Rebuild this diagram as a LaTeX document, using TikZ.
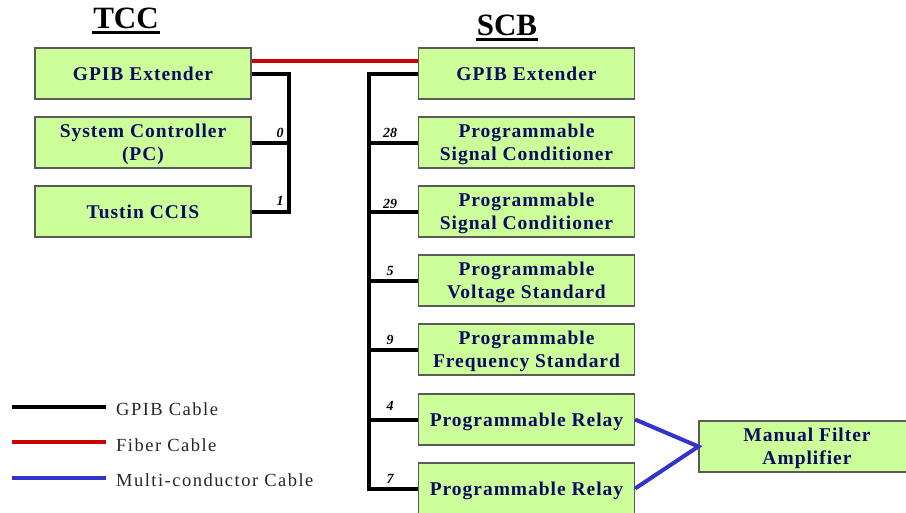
\documentclass[tikz,border=0pt]{standalone}
\usepackage{fontspec}
\setmainfont{Liberation Serif}
\newfontfamily\boxfont[LetterSpace=5]{Liberation Serif}
\newfontfamily\legfont[LetterSpace=8]{Liberation Serif}
\definecolor{boxfill}{RGB}{204,255,153}
\definecolor{boxline}{RGB}{90,90,90}
\definecolor{boxtext}{RGB}{12,12,95}
\definecolor{fibred}{RGB}{204,0,0}
\definecolor{multiblue}{RGB}{51,51,204}
\tikzset{
  unit/.style={draw=boxline, line width=1.2pt, fill=boxfill, minimum width=216pt, minimum height=51pt,
    inner sep=0pt, align=center, text=boxtext, text depth=-3pt,
    font=\boxfont\bfseries\fontsize{19.5}{23}\selectfont},
  gpib/.style={draw=black, line width=4pt},
  fibre/.style={draw=fibred, line width=4pt},
  multi/.style={draw=multiblue, line width=4pt},
  addr/.style={font=\bfseries\itshape\fontsize{14}{15}\selectfont, anchor=base, inner sep=0pt},
  title/.style={font=\bfseries\fontsize{31}{32}\selectfont, anchor=base, inner sep=0pt},
  legtext/.style={font=\legfont\fontsize{18.5}{20}\selectfont, anchor=base west, inner sep=0pt, text=black!85}
}
\begin{document}
\begin{tikzpicture}[x=1pt,y=-1pt]
\useasboundingbox (0,0) rectangle (906,512);
\clip (0,0) rectangle (906,512);
% titles
\node[title] (tcc) at (126,28) {TCC};
\draw[line width=3pt] (92,32.5) -- (160,32.5);
\node[title] (scb) at (507,35) {SCB};
\draw[line width=3pt] (476,39.5) -- (538,39.5);
% TCC boxes
\node[unit] (tgpib) at (143,73.5) {GPIB Extender};
\node[unit] (tsc) at (143,142.5) {System Controller\\(PC)};
\node[unit] (tcc1) at (143,211.5) {Tustin CCIS};
% SCB boxes
\node[unit] (sgpib) at (526.5,73.5) {GPIB Extender};
\node[unit] (psc1) at (526.5,142.5) {Programmable\\Signal Conditioner};
\node[unit] (psc2) at (526.5,211.5) {Programmable\\Signal Conditioner};
\node[unit] (pvs) at (526.5,280.5) {Programmable\\Voltage Standard};
\node[unit] (pfs) at (526.5,349.5) {Programmable\\Frequency Standard};
\node[unit] (rly1) at (526.5,419.5) {Programmable Relay};
\node[unit] (rly2) at (526.5,488.5) {Programmable Relay};
\node[unit] (mfa) at (807,446.5) {Manual Filter\\Amplifier};
% buses
\coordinate (tbus) at (289,0);
\coordinate (sbus) at (369,0);
\draw[fibre] ([yshift=12.5pt]tgpib.east) -- ([yshift=12.5pt]sgpib.west);
\draw[gpib] (tgpib.east) -| (tbus |- tcc1.east) -- (tcc1.east);
\draw[gpib] (tsc.east) -- (tbus |- tsc.east);
\draw[gpib] (sgpib.west) -| (sbus |- rly2.west) -- (rly2.west);
\foreach \n in {psc1,psc2,pvs,pfs,rly1}{
  \draw[gpib] (sbus |- \n.west) -- (\n.west);
}
\draw[multi] (rly1.east) -- (mfa.west) -- (rly2.east);
% addresses
\node[addr] (a0) at (280,137) {0};
\node[addr] (a1) at (280,205.5) {1};
\node[addr] (a28) at (390,137) {28};
\node[addr] (a29) at (390,208) {29};
\node[addr] (a5) at (390,275.5) {5};
\node[addr] (a9) at (390,344) {9};
\node[addr] (a4) at (390,410) {4};
\node[addr] (a7) at (390,483) {7};
% legend
\coordinate (l1a) at (12,406.5); \coordinate (l1b) at (106,406.5);
\coordinate (l2a) at (12,441.5); \coordinate (l2b) at (106,441.5);
\coordinate (l3a) at (12,477.5); \coordinate (l3b) at (106,477.5);
\draw[gpib] (l1a) -- (l1b);
\draw[fibre] (l2a) -- (l2b);
\draw[multi] (l3a) -- (l3b);
\node[legtext] (t1) at (116,415) {GPIB Cable};
\node[legtext] (t2) at (116,451) {Fiber Cable};
\node[legtext] (t3) at (116,486.5) {Multi-conductor Cable};
\end{tikzpicture}
\end{document}
